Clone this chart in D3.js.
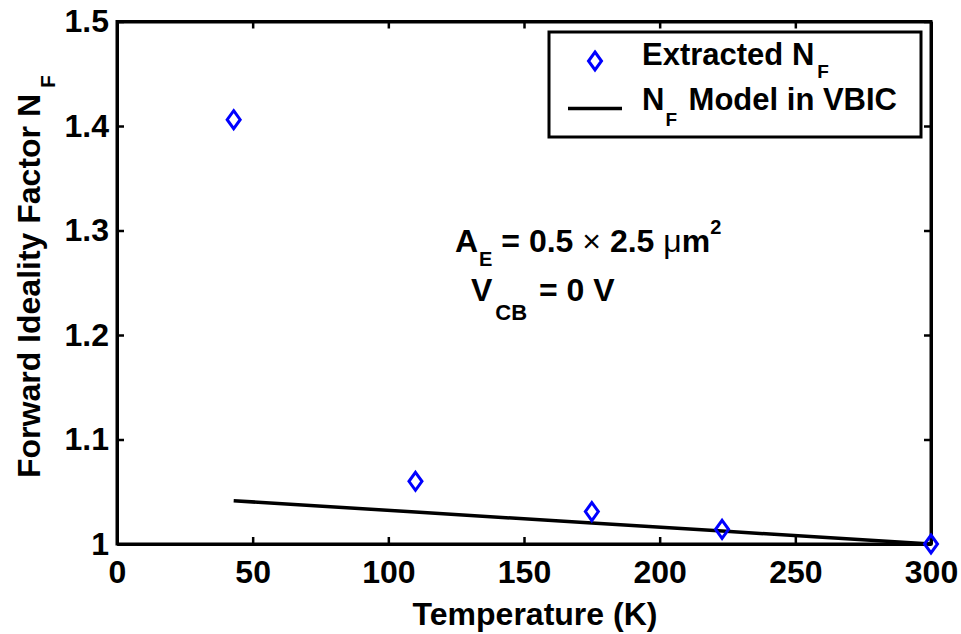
<!DOCTYPE html>
<html>
<head>
<meta charset="utf-8">
<script src="https://cdn.jsdelivr.net/npm/d3@7"></script>
<style>
  html, body { margin: 0; padding: 0; background: #fff; }
  svg text { font-family: "Liberation Sans", Arial, Helvetica, sans-serif; font-weight: bold; fill: #000; }
</style>
</head>
<body>
<svg id="chart" width="961" height="634"></svg>
<script>
// Extracted forward ideality factor vs. temperature
const temperatureK = [43, 110, 175, 223, 300];
const extractedNF = [1.406, 1.060, 1.031, 1.014, 1.000];

// VBIC model curve
const modelT = [43, 110, 175, 223, 300];
const modelNF = [1.0414, 1.0306, 1.0201, 1.0124, 1.000];

const xTicks = [0, 50, 100, 150, 200, 250, 300];
const yTicks = [1, 1.1, 1.2, 1.3, 1.4, 1.5];

const svg = d3.select("#chart");
const plotL = 117, plotR = 931, plotT = 21.5, plotB = 544;
const x = d3.scaleLinear().domain([0, 300]).range([plotL, plotR]);
const y = d3.scaleLinear().domain([1, 1.5]).range([plotB, plotT]);
const fs = 32;

// Axes (box with inward ticks)
const tickLen = 7;
const gB = svg.append("g").attr("transform", `translate(0,${plotB})`)
  .call(d3.axisBottom(x).tickValues(xTicks).tickSizeInner(-tickLen).tickSizeOuter(0).tickPadding(16).tickFormat(d3.format("d")));
const gT = svg.append("g").attr("transform", `translate(0,${plotT})`)
  .call(d3.axisTop(x).tickValues(xTicks).tickSizeInner(-tickLen).tickSizeOuter(0).tickFormat(""));
const gL = svg.append("g").attr("transform", `translate(${plotL},0)`)
  .call(d3.axisLeft(y).tickValues(yTicks).tickSizeInner(-tickLen).tickSizeOuter(0).tickPadding(8).tickFormat(d => d === 1 ? "1" : d3.format(".1f")(d)));
const gR = svg.append("g").attr("transform", `translate(${plotR},0)`)
  .call(d3.axisRight(y).tickValues(yTicks).tickSizeInner(-tickLen).tickSizeOuter(0).tickFormat(""));

[gB, gT, gL, gR].forEach(g => {
  g.select(".domain").attr("stroke", "#000").attr("stroke-width", 3);
  g.selectAll(".tick line").attr("stroke", "#000").attr("stroke-width", 2.5);
  g.selectAll(".tick text").attr("font-size", fs).attr("fill", "#000")
    .style("font-family", '"Liberation Sans", Arial, sans-serif').style("font-weight", "bold");
});
gB.selectAll(".tick text").attr("dy", "0.72em");
// square off the box corners
svg.append("rect").attr("x", plotL).attr("y", plotT).attr("width", plotR - plotL).attr("height", plotB - plotT)
  .attr("fill", "none").attr("stroke", "#000").attr("stroke-width", 3);

// Model line
const line = d3.line().x((d, i) => x(modelT[i])).y(d => y(d));
svg.append("path").datum(modelNF).attr("d", line)
  .attr("fill", "none").attr("stroke", "#000").attr("stroke-width", 3.5);

// Diamond markers
const diamond = "M0,-9 L6.5,0 L0,9 L-6.5,0 Z";
svg.append("g").selectAll("path").data(extractedNF).join("path")
  .attr("d", diamond)
  .attr("transform", (d, i) => `translate(${x(temperatureK[i])},${y(d)})`)
  .attr("fill", "none").attr("stroke", "#0000ff").attr("stroke-width", 3);

// Axis titles
svg.append("text").attr("x", 535).attr("y", 625).attr("text-anchor", "middle")
  .attr("font-size", fs).text("Temperature (K)");

const yl = svg.append("text").attr("transform", "translate(40,478) rotate(-90)")
  .attr("font-size", fs);
yl.append("tspan").text("Forward Ideality Factor N");
yl.append("tspan").attr("font-size", 21).attr("dx", 6).attr("dy", 15).text("F");

// Legend
const lg = svg.append("g");
lg.append("rect").attr("x", 549).attr("y", 32).attr("width", 372).attr("height", 105)
  .attr("fill", "#fff").attr("stroke", "#000").attr("stroke-width", 3);
lg.append("path").attr("d", diamond).attr("transform", "translate(595,61)")
  .attr("fill", "none").attr("stroke", "#0000ff").attr("stroke-width", 3);
lg.append("line").attr("x1", 568).attr("x2", 622).attr("y1", 108.5).attr("y2", 108.5)
  .attr("stroke", "#000").attr("stroke-width", 3.5);
const lfs = 31;
const t1 = lg.append("text").attr("x", 642).attr("y", 65).attr("font-size", lfs);
t1.append("tspan").text("Extracted N");
t1.append("tspan").attr("dx", 3).attr("dy", 13).attr("font-size", 19).text("F");
const t2 = lg.append("text").attr("x", 642).attr("y", 110).attr("font-size", lfs);
t2.append("tspan").text("N");
t2.append("tspan").attr("dx", 1).attr("dy", 16).attr("font-size", 19).text("F");
t2.append("tspan").attr("dx", 3).attr("dy", -16).text(" Model in VBIC");

// Device annotations
const a1 = svg.append("text").attr("x", 455).attr("y", 252).attr("font-size", fs);
a1.append("tspan").text("A");
a1.append("tspan").attr("dx", 1).attr("dy", 14).attr("font-size", 20).text("E");
a1.append("tspan").attr("dy", -14).text(" = 0.5 ");
a1.append("tspan").style("font-weight", "normal").text("×");
a1.append("tspan").text(" 2.5 ");
a1.append("tspan").style("font-weight", "normal").text("μ");
a1.append("tspan").text("m");
a1.append("tspan").attr("dy", -18).attr("font-size", 20).text("2");

const a2 = svg.append("text").attr("x", 471).attr("y", 301).attr("font-size", fs);
a2.append("tspan").text("V");
a2.append("tspan").attr("dx", 3).attr("dy", 19).attr("font-size", 22).text("CB");
a2.append("tspan").attr("dx", 3).attr("dy", -19).text(" = 0 V");
</script>
</body>
</html>
